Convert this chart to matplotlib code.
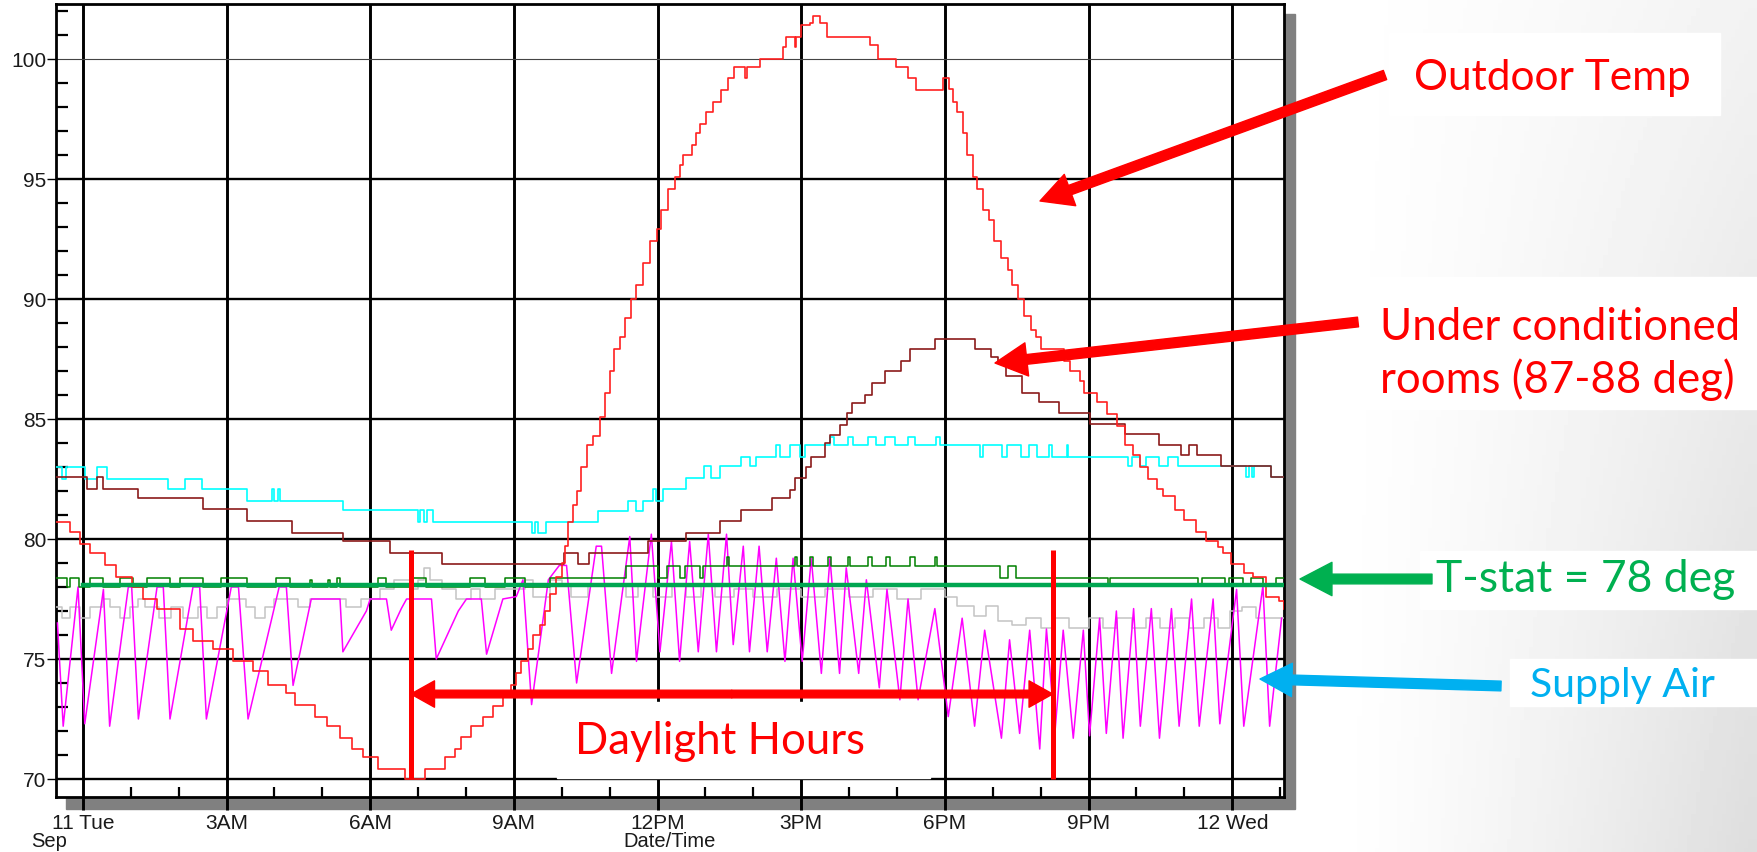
import numpy as np
import matplotlib.pyplot as plt
from matplotlib.patches import Rectangle, FancyArrowPatch

W, H = 1757, 853

# time axis: hours after midnight, Tue 11 Sep
tick_hr = [0, 3, 6, 9, 12, 15, 18, 21, 24]
tick_lbl = ["11 Tue", "3AM", "6AM", "9AM", "12PM", "3PM", "6PM", "9PM", "12 Wed"]
temp_ticks = [70, 75, 80, 85, 90, 95, 100]

outdoor_hr = [-0.56, -0.27, -0.06, 0.15, 0.46, 0.70, 1.02, 1.26, 1.54, 2.02, 2.30, 2.72, 3.14,
              3.55, 3.87, 4.25, 4.43, 4.84, 5.09, 5.37, 5.61, 5.85, 6.16, 6.72, 7.14, 7.56,
              7.77, 7.90, 8.11, 8.36, 8.56, 8.77, 8.94, 9.05, 9.15, 9.29, 9.40, 9.54, 9.65,
              9.75, 9.89, 10.00, 10.07, 10.14, 10.24, 10.31, 10.41, 10.52, 10.65, 10.79,
              10.90, 11.00, 11.10, 11.21, 11.31, 11.45, 11.56, 11.70, 11.84, 11.98, 12.08,
              12.22, 12.36, 12.46, 12.53, 12.71, 12.81, 12.88, 13.02, 13.16, 13.33, 13.47,
              13.59, 13.82, 13.87, 14.14, 14.62, 14.69, 14.87, 14.90, 15.00, 15.18, 15.25,
              15.39, 15.53, 16.43, 16.60, 16.98, 17.22, 17.40, 17.95, 18.09, 18.16, 18.26,
              18.37, 18.47, 18.58, 18.68, 18.79, 18.93, 19.03, 19.17, 19.31, 19.41, 19.52,
              19.66, 19.79, 19.90, 20.00, 20.48, 20.62, 20.83, 20.90, 21.17, 21.38, 21.59,
              21.76, 21.93, 22.07, 22.24, 22.42, 22.56, 22.80, 23.00, 23.25, 23.45, 23.70,
              23.80, 23.98, 24.25, 24.43, 24.70, 24.98, 25.08]
outdoor_temp = [80.7, 80.3, 79.8, 79.4, 78.9, 78.4, 78.0, 77.5, 77.1, 76.25, 75.75, 75.4, 74.9,
                74.5, 73.9, 73.6, 73.1, 72.6, 72.2, 71.7, 71.25, 70.9, 70.4, 70.0, 70.4, 70.9,
                71.25, 71.75, 72.2, 72.6, 73.06, 73.4, 73.9, 74.4, 74.9, 75.4, 76.0, 76.4, 77.0,
                77.7, 78.4, 79.0, 79.7, 80.7, 81.4, 82.0, 83.0, 83.9, 84.3, 85.1,
                86.1, 87.0, 87.9, 88.4, 89.2, 90.0, 90.6, 91.5, 92.4, 92.9, 93.7,
                94.6, 95.1, 95.6, 96.0, 96.4, 96.9, 97.3, 97.8, 98.2, 98.7, 99.2,
                99.65, 99.2, 99.65, 100.0, 100.5, 100.9, 100.5, 100.9, 101.4, 101.5, 101.8,
                101.5, 100.9, 100.6, 100.0, 99.65, 99.2, 98.7, 99.2, 98.75, 98.2, 97.8,
                96.9, 96.0, 95.1, 94.6, 93.7, 93.3, 92.4, 91.7, 91.2, 90.6, 90.0,
                89.3, 88.7, 88.4, 87.9, 87.4, 87.0, 86.6, 86.1, 85.7, 85.2, 84.7,
                83.9, 83.5, 83.0, 82.5, 82.1, 81.8, 81.2, 80.8, 80.3, 79.9, 79.65,
                79.4, 78.96, 78.6, 78.4, 77.6, 77.4, 77.1]

room_hr = [-0.56, 0.08, 0.29, 0.42, 1.15, 2.51, 3.42, 4.36, 5.43, 6.41, 7.50, 10.05, 10.33,
           10.57, 11.80, 12.60, 13.30, 13.75, 14.39, 14.76, 14.87, 15.11, 15.21, 15.49, 15.60,
           15.81, 15.95, 16.05, 16.33, 16.47, 16.75, 17.09, 17.27, 17.79, 18.62, 18.97, 19.11,
           19.28, 19.62, 19.97, 20.38, 21.03, 21.76, 22.48, 22.93, 23.10, 23.27, 23.76, 24.80,
           25.08]
room_temp = [82.6, 82.1, 82.6, 82.1, 81.7, 81.25, 80.76, 80.27, 79.9, 79.4, 78.96, 79.4, 78.96,
             79.4, 79.9, 80.25, 80.76, 81.2, 81.7, 82.05, 82.55, 83.0, 83.4, 84.0, 84.35,
             84.76, 85.25, 85.66, 86.0, 86.5, 87.0, 87.4, 87.9, 88.35, 87.9, 87.6, 87.35,
             86.8, 86.07, 85.7, 85.26, 84.8, 84.37, 83.9, 83.5, 83.9, 83.5, 83.05, 82.6,
             82.6]

cyan_hr = [-0.56, -0.43, -0.36, 0.04, 0.29, 0.50, 1.78, 2.13, 2.48, 3.42, 3.94, 4.00, 4.08,
           4.12, 5.44, 7.00, 7.05, 7.12, 7.18, 7.31, 9.37, 9.45, 9.50, 9.68, 10.76, 11.39,
           11.55, 11.70, 11.90, 11.97, 12.11, 12.60, 12.98, 13.12, 13.30, 13.75, 13.92, 14.06,
           14.48, 14.55, 14.76, 14.97, 15.08, 15.60, 15.68, 15.98, 16.08, 16.40, 16.57, 16.75,
           16.95, 17.23, 17.37, 17.82, 17.90, 18.73, 18.80, 19.20, 19.30, 19.59, 19.76, 19.93,
           20.17, 20.24, 20.55, 20.58, 21.83, 21.90, 22.07, 22.20, 22.48, 22.65, 22.86, 24.28,
           24.35, 24.42, 24.45, 24.80, 25.08]
cyan_temp = [82.98, 82.5, 82.98, 82.5, 82.98, 82.5, 82.08, 82.5, 82.08, 81.6, 82.08, 81.6, 82.08,
             81.6, 81.2, 80.7, 81.2, 80.7, 81.2, 80.7, 80.25, 80.7, 80.25, 80.7, 81.18, 81.6,
             81.18, 81.6, 82.08, 81.6, 82.08, 82.53, 83.03, 82.53, 83.03, 83.4, 83.03, 83.4,
             83.9, 83.4, 83.9, 83.4, 83.9, 84.25, 83.9, 84.25, 83.9, 84.25, 83.9, 84.25,
             83.9, 84.25, 83.9, 84.25, 83.9, 83.4, 83.9, 83.4, 83.9, 83.4, 83.9, 83.4,
             83.9, 83.4, 83.9, 83.4, 83.04, 83.4, 83.04, 83.4, 83.04, 83.4, 83.04, 82.6,
             83.04, 82.6, 83.04, 82.6, 82.6]

tstat_hr = [-0.56, -0.34, -0.27, -0.07, 0.14, 0.42, 0.77, 1.05, 1.33, 1.82, 2.02, 2.51, 2.89,
            3.42, 4.04, 4.32, 4.74, 4.78, 5.12, 5.16, 5.30, 5.37, 6.17, 6.34, 6.90, 7.17, 8.08,
            8.40, 8.81, 9.23, 9.75, 11.35, 12.00, 12.19, 12.46, 12.57, 12.88, 12.95, 13.44,
            13.50, 14.86, 14.92, 15.18, 15.25, 15.56, 15.63, 15.98, 16.02, 16.40, 16.47, 16.78,
            16.85, 17.27, 17.37, 17.79, 17.83, 19.15, 19.32, 19.49, 21.40, 21.45, 23.29, 23.36,
            23.84, 23.94, 24.22, 24.39, 24.64, 24.92, 25.08]
tstat_temp = [78.36, 78.0, 78.36, 78.0, 78.36, 78.0, 78.36, 78.0, 78.36, 78.0, 78.36, 78.0, 78.36,
              78.0, 78.36, 78.0, 78.3, 78.0, 78.3, 78.0, 78.36, 78.0, 78.36, 78.0, 78.36, 78.0, 78.36,
              78.0, 78.36, 78.0, 78.36, 78.86, 78.36, 78.86, 78.36, 78.86, 78.36, 78.86, 79.24,
              78.86, 79.24, 78.86, 79.24, 78.86, 79.24, 78.86, 79.24, 78.86, 79.24, 78.86, 79.24,
              78.86, 79.24, 78.86, 79.24, 78.86, 78.36, 78.86, 78.36, 78.05, 78.36, 78.05, 78.36,
              78.05, 78.36, 78.05, 78.36, 78.05, 78.36, 78.36]

grey_hr = [-0.56, -0.43, -0.27, -0.06, 0.14, 0.42, 0.56, 0.77, 0.98, 1.16, 1.30, 1.60, 1.85,
           2.10, 2.40, 2.60, 2.80, 3.00, 3.40, 3.60, 3.80, 4.00, 4.50, 4.74, 5.50, 5.80, 6.20,
           6.50, 6.90, 7.00, 7.12, 7.25, 7.50, 7.80, 8.10, 8.30, 8.60, 9.23, 9.40, 9.75, 10.00,
           10.20, 10.55, 11.35, 11.60, 11.90, 12.30, 12.60, 12.90, 13.20, 13.60, 14.00, 14.50,
           15.00, 15.50, 16.00, 16.50, 17.00, 17.50, 18.00, 18.25, 18.60, 18.85, 19.10, 19.40,
           19.70, 20.00, 20.30, 20.60, 21.00, 21.30, 21.60, 21.90, 22.20, 22.50, 22.80, 23.10,
           23.40, 23.70, 23.95, 24.20, 24.50, 25.08]
grey_temp = [77.15, 76.7, 77.15, 76.7, 77.15, 77.5, 77.15, 76.7, 77.15, 77.5, 77.15, 76.7, 77.15,
             76.7, 77.15, 76.7, 77.15, 77.5, 77.15, 76.7, 77.15, 77.5, 77.15, 77.5, 77.15, 77.5, 77.9,
             78.3, 77.9, 78.3, 78.8, 78.3, 77.9, 77.5, 77.9, 77.5, 77.9, 78.3, 77.6, 78.3, 78.1,
             77.6, 78.05, 77.6, 78.05, 77.6, 78.05, 77.6, 78.05, 77.6, 77.9, 77.6, 77.9,
             77.6, 77.9, 77.6, 77.9, 77.5, 77.9, 77.6, 77.2, 76.8, 77.2, 76.6, 76.4,
             76.7, 76.3, 76.7, 76.3, 76.7, 76.3, 76.7, 76.3, 76.7, 76.3, 76.7, 76.3,
             76.7, 76.3, 77.0, 77.15, 76.7, 76.7]

supply_hr = [-0.53, -0.41, -0.10, 0.04, 0.43, 0.56, 0.95, 1.02, 1.16, 1.55, 1.68, 1.82, 2.30,
             2.44, 2.58, 3.10, 3.25, 3.45, 4.10, 4.25, 4.39, 4.77, 5.37, 5.43, 5.92, 6.00, 6.34,
             6.44, 6.65, 6.76, 7.28, 7.38, 7.84, 8.01, 8.32, 8.43, 8.77, 9.05, 9.19, 9.37, 9.72,
             9.95, 10.10, 10.31, 10.72, 10.83, 11.04, 11.42, 11.56, 11.87, 12.05, 12.29, 12.46,
             12.67, 12.85, 13.06, 13.23, 13.44, 13.58, 13.79, 13.92, 14.12, 14.29, 14.48, 14.66,
             14.83, 15.02, 15.21, 15.42, 15.60, 15.80, 15.94, 16.20, 16.36, 16.63, 16.79, 17.06,
             17.23, 17.44, 17.79, 18.07, 18.36, 18.62, 18.83, 19.18, 19.35, 19.56, 19.77, 19.98,
             20.12, 20.30, 20.47, 20.68, 20.89, 21.02, 21.23, 21.37, 21.58, 21.72, 21.94, 22.08,
             22.31, 22.48, 22.73, 22.89, 23.15, 23.31, 23.60, 23.74, 24.09, 24.24, 24.64, 24.78,
             25.03]
supply_temp = [76.5, 72.2, 78.0, 72.3, 77.9, 72.2, 78.0, 78.0, 72.5, 78.0, 78.0, 72.5, 78.0,
               78.0, 72.5, 78.0, 78.0, 72.5, 78.0, 78.0, 73.9, 77.5, 77.5, 75.3, 77.0, 77.5, 77.5,
               76.2, 77.1, 77.5, 77.5, 75.0, 77.0, 77.5, 77.5, 75.2, 77.5, 77.6, 78.3, 73.1, 78.3,
               78.9, 78.9, 74.0, 79.7, 79.7, 74.4, 80.1, 74.9, 80.2, 75.3, 79.9, 74.9,
               79.9, 75.3, 80.2, 75.3, 80.2, 75.6, 79.7, 75.3, 79.7, 75.3, 79.2, 74.9,
               79.2, 74.9, 79.2, 74.4, 79.2, 74.4, 78.8, 74.4, 78.3, 73.8, 77.9, 73.3,
               77.5, 73.3, 77.1, 72.6, 76.7, 72.2, 76.2, 71.7, 75.8, 71.9, 76.2, 71.25,
               76.25, 72.0, 76.2, 71.7, 76.2, 71.8, 76.7, 71.9, 77.0, 71.7, 77.1, 72.2,
               77.1, 71.7, 77.1, 72.2, 77.5, 72.2, 77.5, 72.3, 77.9, 72.2, 78.05, 72.2,
               76.7]

setpoint = 78.1
sunrise_hr, sunset_hr = 6.85, 20.25


def fx(x):
    return x / W


def fy(y):
    return 1 - y / H


fig = plt.figure(figsize=(W / 100, H / 100), dpi=100)

# slide background, light grey towards the right
bg = fig.add_axes([0, 0, 1, 1], zorder=-5)
gx, gy = np.meshgrid(np.linspace(0, W, 400), np.linspace(0, 1, 200))
shade = np.clip((gx - 1330) / 420, 0, 1) ** 1.3 * (0.05 + 0.08 * gy)
bg.imshow(1 - shade, cmap="gray", vmin=0, vmax=1, extent=[0, 1, 0, 1], aspect="auto")
bg.set_xlim(0, 1)
bg.set_ylim(0, 1)
bg.axis("off")

# drop shadow of the chart
fig.add_artist(Rectangle((fx(66), fy(810)), (1295 - 66) / W, (810 - 15) / H,
                         transform=fig.transFigure, color="#808080", zorder=-1))

ax = fig.add_axes([fx(56), fy(798), (1284 - 56) / W, (798 - 5) / H])
ax.set_facecolor("white")
ax.set_xlim(-0.56, 25.08)
ax.set_ylim(69.25, 102.29)

ax.plot(grey_hr, grey_temp, drawstyle="steps-post", color="#c4c4c4", lw=1.1, zorder=3)
ax.plot(supply_hr, supply_temp, color="#ff00ff", lw=1.1, zorder=4)
ax.plot(tstat_hr, tstat_temp, drawstyle="steps-post", color="#008000", lw=1.1, zorder=5)
ax.plot(cyan_hr, cyan_temp, drawstyle="steps-post", color="#00ffff", lw=1.2, zorder=5)
ax.plot(room_hr, room_temp, drawstyle="steps-post", color="#8b1a1a", lw=1.2, zorder=6)
ax.plot(outdoor_hr, outdoor_temp, drawstyle="steps-post", color="#ff2020", lw=1.2, zorder=7)
ax.plot([0, 25.08], [setpoint, setpoint], color="#00a651", lw=3.2, zorder=8)

# grid
ax.set_axisbelow(True)
ax.set_xticks(tick_hr, labels=tick_lbl)
ax.set_xticks([h for h in range(1, 26) if h % 3], minor=True)
ax.set_yticks(temp_ticks)
ax.set_yticks([t for t in range(70, 103) if t % 5], minor=True)
ax.grid(True, which="major", axis="x", color="black", lw=2.1)
ax.grid(True, which="major", axis="y", color="black", lw=1.7)
ax.yaxis.get_gridlines()[-1].set_linewidth(0.8)
ax.yaxis.get_gridlines()[-1].set_color("#444444")

for s in ax.spines.values():
    s.set_linewidth(2.0)
ax.tick_params(axis="x", which="major", direction="out", length=9, width=2.1, pad=2.5,
               labelsize=15, labelcolor="#1a1a1a")
ax.tick_params(axis="x", which="minor", direction="in", length=7, width=1.6)
ax.tick_params(axis="y", which="major", direction="out", length=6.5, width=1.0, pad=0.5,
               labelsize=15, labelcolor="#1a1a1a")
ax.tick_params(axis="y", which="minor", direction="in", length=8.5, width=1.6)
for lbl in ax.get_xticklabels() + ax.get_yticklabels():
    lbl.set_fontfamily("Liberation Sans")

fig.text(fx(31), fy(842), "Sep", ha="left", va="center", fontsize=14.5,
         family="Liberation Sans", color="#1a1a1a")
fig.text(fx(670), fy(842), "Date/Time", ha="center", va="center", fontsize=14.5,
         family="Liberation Sans", color="#1a1a1a")

# daylight markers
red = "#ff0000"
ax.plot([sunrise_hr, sunrise_hr], [70, 79.54], color=red, lw=3.6, zorder=10, solid_capstyle="butt")
ax.plot([sunset_hr, sunset_hr], [70, 79.54], color=red, lw=3.6, zorder=10, solid_capstyle="butt")
mid = (sunrise_hr + sunset_hr) / 2
for end in (sunrise_hr, sunset_hr):
    ax.add_patch(FancyArrowPatch((mid, 73.54), (end, 73.54), shrinkA=0, shrinkB=0,
                                 arrowstyle="simple,head_length=17,head_width=19,tail_width=5.5",
                                 color=red, zorder=11))

fig.add_artist(Rectangle((fx(557), fy(779)), (930 - 557) / W, (779 - 703) / H,
                         transform=fig.transFigure, color="white", zorder=2))
fig.text(fx(720), fy(742), "Daylight Hours", ha="center", va="center", fontsize=31.5,
         family="Lato", color=red, zorder=3)

# callouts on the right
boxes = [(1389, 34, 1720, 116), (1360, 278, 1757, 410), (1420, 552, 1757, 610),
         (1510, 660, 1757, 707)]
for x0, y0, x1, y1 in boxes:
    fig.add_artist(Rectangle((fx(x0), fy(y1)), (x1 - x0) / W, (y1 - y0) / H,
                             transform=fig.transFigure, color="white", zorder=2))

fig.text(fx(1414), fy(78), "Outdoor Temp", ha="left", va="center", fontsize=30.5,
         family="Lato", color=red, zorder=3)
fig.text(fx(1380), fy(354), "Under conditioned\nrooms (87-88 deg)", ha="left", va="center",
         fontsize=31.5, family="Lato", color=red, linespacing=1.28, zorder=3)
fig.text(fx(1436), fy(580), "T-stat = 78 deg", ha="left", va="center", fontsize=32,
         family="Lato", color="#00b050", zorder=3)
sa = fig.text(fx(1530), fy(686), "Supply Air", ha="left", va="center", fontsize=29.5,
              family="Lato", color="#00b0f0", zorder=3)
sa.set_clip_path(Rectangle((fx(1510), fy(707)), (1757 - 1510) / W, (707 - 600) / H,
                           transform=fig.transFigure))

arrows = [((1385, 76), (1040, 202), red), ((1358, 323), (995, 364), red),
          ((1432, 580), (1300, 580), "#00b050"), ((1501, 687), (1260, 680), "#00b0f0")]
for (xa, ya), (xb, yb), col in arrows:
    fig.add_artist(FancyArrowPatch((fx(xa), fy(ya)), (fx(xb), fy(yb)),
                                   transform=fig.transFigure, shrinkA=0, shrinkB=0,
                                   arrowstyle="simple,head_length=23,head_width=24,tail_width=7",
                                   color=col, zorder=4))

fig.savefig("out.png", dpi=100)
